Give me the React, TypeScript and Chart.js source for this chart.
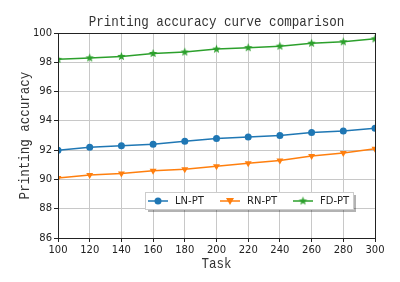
import { useEffect, useRef } from "react";
import { Chart, registerables } from "chart.js";

Chart.register(...registerables);

const tasks = [100, 120, 140, 160, 180, 200, 220, 240, 260, 280, 300];
const lnPT = [92.0, 92.2, 92.3, 92.4, 92.6, 92.8, 92.9, 93.0, 93.2, 93.3, 93.5];
const rnPT = [90.1, 90.3, 90.4, 90.6, 90.7, 90.9, 91.1, 91.3, 91.6, 91.8, 92.1];
const fdPT = [98.2, 98.3, 98.4, 98.6, 98.7, 98.9, 99.0, 99.1, 99.3, 99.4, 99.6];
const seriesNames = ["LN-PT", "RN-PT", "FD-PT"];
const chartTitle = "Printing accuracy curve comparison";
const xTitle = "Task";
const yTitle = "Printing accuracy";

const BLUE = "#1f77b4";
const ORANGE = "#ff7f0e";
const GREEN = "#2ca02c";
const SERIF = "'Liberation Mono', 'DejaVu Sans Mono', monospace";
const SANS = "'DejaVu Sans', sans-serif";

function makeStar(color: string, r: number) {
  const c = document.createElement("canvas");
  const size = Math.ceil(r * 2 + 2);
  c.width = size;
  c.height = size;
  const ctx = c.getContext("2d")!;
  const cx = size / 2;
  const cy = size / 2;
  ctx.beginPath();
  for (let i = 0; i < 10; i++) {
    const rad = i % 2 === 0 ? r : r * 0.42;
    const a = -Math.PI / 2 + (i * Math.PI) / 5;
    const x = cx + rad * Math.cos(a);
    const y = cy + rad * Math.sin(a);
    if (i === 0) ctx.moveTo(x, y);
    else ctx.lineTo(x, y);
  }
  ctx.closePath();
  ctx.fillStyle = color;
  ctx.fill();
  return c;
}

export default function App() {
  const ref = useRef<HTMLCanvasElement | null>(null);

  useEffect(() => {
    const canvas = ref.current!;
    const star = makeStar(GREEN, 4.5);

    const drawMarker = (ctx: CanvasRenderingContext2D, kind: number, x: number, y: number) => {
      if (kind === 0) {
        ctx.beginPath();
        ctx.arc(x, y, 3.5, 0, Math.PI * 2);
        ctx.fillStyle = BLUE;
        ctx.fill();
      } else if (kind === 1) {
        ctx.beginPath();
        ctx.moveTo(x - 4, y - 3);
        ctx.lineTo(x + 4, y - 3);
        ctx.lineTo(x, y + 4);
        ctx.closePath();
        ctx.fillStyle = ORANGE;
        ctx.fill();
      } else {
        ctx.drawImage(star, x - star.width / 2, y - star.height / 2);
      }
    };

    const narrowText = (ctx: CanvasRenderingContext2D, text: string, x: number, y: number, rot: number) => {
      ctx.save();
      ctx.translate(x, y);
      ctx.rotate(rot);
      ctx.scale(0.835, 1);
      ctx.fillText(text, 0, 0);
      ctx.restore();
    };

    const decor = {
      id: "decor",
      afterDraw(chart: any) {
        const ctx: CanvasRenderingContext2D = chart.ctx;
        const a = chart.chartArea;
        ctx.save();
        // frame
        ctx.strokeStyle = "#222";
        ctx.lineWidth = 1;
        ctx.strokeRect(Math.round(a.left) + 0.5, Math.round(a.top) + 0.5, Math.round(a.right - a.left), Math.round(a.bottom - a.top));
        // titles
        const cx = (a.left + a.right) / 2;
        ctx.fillStyle = "#333";
        ctx.font = `15px ${SERIF}`;
        ctx.textAlign = "center";
        ctx.textBaseline = "middle";
        narrowText(ctx, chartTitle, cx, 22, 0);
        narrowText(ctx, xTitle, cx, 264, 0);
        narrowText(ctx, yTitle, 25, (a.top + a.bottom) / 2, -Math.PI / 2);
        // legend
        const lx = 145, ly = 192, lw = 208, lh = 17;
        ctx.fillStyle = "rgba(0,0,0,0.3)";
        ctx.fillRect(lx + 3, ly + 3, lw, lh);
        ctx.fillStyle = "#fff";
        ctx.fillRect(lx, ly, lw, lh);
        ctx.strokeStyle = "#ccc";
        ctx.strokeRect(lx + 0.5, ly + 0.5, lw, lh);
        const colors = [BLUE, ORANGE, GREEN];
        const starts = [148, 220, 293];
        const my = ly + lh / 2 + 0.5;
        ctx.font = `10px ${SANS}`;
        ctx.textAlign = "left";
        for (let i = 0; i < 3; i++) {
          const sx = starts[i];
          ctx.strokeStyle = colors[i];
          ctx.lineWidth = 1.5;
          ctx.beginPath();
          ctx.moveTo(sx, my);
          ctx.lineTo(sx + 20, my);
          ctx.stroke();
          drawMarker(ctx, i, sx + 10, my);
          ctx.fillStyle = "#222";
          ctx.fillText(seriesNames[i], sx + 27, my);
        }
        ctx.restore();
      },
    };

    const mk = (vals: number[]) => tasks.map((t, i) => ({ x: t, y: vals[i] }));

    const chart = new Chart(canvas, {
      type: "line",
      data: {
        datasets: [
          {
            label: seriesNames[0],
            data: mk(lnPT),
            borderColor: BLUE,
            backgroundColor: BLUE,
            borderWidth: 1.5,
            pointStyle: "circle",
            pointRadius: 3.5,
            pointBorderWidth: 0,
          },
          {
            label: seriesNames[1],
            data: mk(rnPT),
            borderColor: ORANGE,
            backgroundColor: ORANGE,
            borderWidth: 1.5,
            pointStyle: "triangle",
            pointRotation: 180,
            pointRadius: 4,
            pointBorderWidth: 0,
          },
          {
            label: seriesNames[2],
            data: mk(fdPT),
            borderColor: GREEN,
            backgroundColor: GREEN,
            borderWidth: 1.5,
            pointStyle: star as any,
            pointRadius: 4,
          },
        ],
      },
      options: {
        animation: false,
        responsive: false,
        layout: { padding: { top: 33, right: 25, left: 0, bottom: 0 } },
        plugins: {
          legend: { display: false },
          tooltip: { enabled: false },
          title: { display: false },
        },
        scales: {
          x: {
            type: "linear",
            min: 100,
            max: 300,
            afterFit: (s: any) => {
              s.height = 44;
            },
            ticks: { stepSize: 20, font: { family: SANS, size: 10 }, color: "#222", padding: 2, maxRotation: 0 },
            grid: { color: "#c8c8c8", tickColor: "#222", tickLength: 4, lineWidth: 1 },
            border: { display: false },
          },
          y: {
            min: 86,
            max: 100,
            afterFit: (s: any) => {
              s.width = 58;
            },
            ticks: { stepSize: 2, font: { family: SANS, size: 10 }, color: "#222", padding: 2 },
            grid: { color: "#c8c8c8", tickColor: "#222", tickLength: 4, lineWidth: 1 },
            border: { display: false },
          },
        },
      },
      plugins: [decor],
    } as any);

    return () => chart.destroy();
  }, []);

  return (
    <div style={{ position: "absolute", left: 0, top: 0, width: 400, height: 282, background: "#fff" }}>
      <canvas ref={ref} width={400} height={282} />
    </div>
  );
}
